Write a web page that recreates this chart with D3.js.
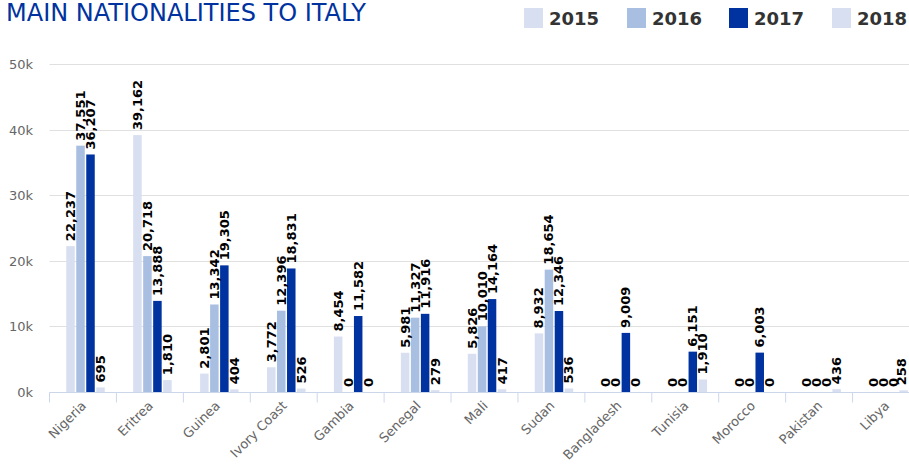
<!DOCTYPE html>
<html>
<head>
<meta charset="utf-8">
<script src="https://cdn.jsdelivr.net/npm/d3@7"></script>
<style>
  html, body { margin: 0; padding: 0; background: #fff; }
  svg { display: block; font-family: "DejaVu Sans", sans-serif; }
</style>
</head>
<body>
<svg id="chart" width="909" height="468"></svg>
<script>
const categories = ["Nigeria", "Eritrea", "Guinea", "Ivory Coast", "Gambia", "Senegal", "Mali", "Sudan", "Bangladesh", "Tunisia", "Morocco", "Pakistan", "Libya"];
const seriesNames = ["2015", "2016", "2017", "2018"];
const values2015 = [22237, 39162, 2801, 3772, 8454, 5981, 5826, 8932, 0, 0, 0, 0, 0];
const values2016 = [37551, 20718, 13342, 12396, 0, 11327, 10010, 18654, 0, 0, 0, 0, 0];
const values2017 = [36207, 13888, 19305, 18831, 11582, 11916, 14164, 12346, 9009, 6151, 6003, 0, 0];
const values2018 = [695, 1810, 404, 526, 0, 279, 417, 536, 0, 1910, 0, 436, 258];
const yTicks = [0, 10000, 20000, 30000, 40000, 50000];
const colors = ["#d8dff0", "#a9bfe2", "#0033a0", "#d8dff0"];

const seriesValues = [values2015, values2016, values2017, values2018];

const svg = d3.select("#chart");
const plotLeft = 49.5, plotRight = 919.5, plotTop = 64, plotBottom = 392;

const x = d3.scaleBand().domain(categories).range([plotLeft, plotRight]).padding(0);
const xs = d3.scaleBand().domain(seriesNames).range([16, 56]).paddingInner(0.15).paddingOuter(0.075);
const y = d3.scaleLinear().domain([0, 50000]).range([plotBottom, plotTop]);

// gridlines
svg.append("g").selectAll("line").data(yTicks).join("line")
  .attr("x1", plotLeft).attr("x2", 909)
  .attr("y1", d => Math.round(y(d)) + 0.5).attr("y2", d => Math.round(y(d)) + 0.5)
  .attr("stroke", "#e0e0e0").attr("stroke-width", 1);

// y axis labels
const yAxis = d3.axisLeft(y).tickValues(yTicks).tickSize(0).tickPadding(0)
  .tickFormat(d => (d / 1000) + "k");
const yg = svg.append("g").attr("transform", "translate(33,0)").call(yAxis);
yg.select(".domain").remove();
yg.selectAll("text").attr("fill", "#666").style("font-size", "13px")
  .style("font-family", "DejaVu Sans, sans-serif").attr("dy", "0.35em");

// bars
seriesNames.forEach((s, si) => {
  const g = svg.append("g");
  g.selectAll("rect").data(categories).join("rect")
    .attr("x", c => x(c) + xs(s))
    .attr("width", xs.bandwidth())
    .attr("y", (c, i) => y(seriesValues[si][i]))
    .attr("height", (c, i) => plotBottom - y(seriesValues[si][i]))
    .attr("fill", colors[si]);
});

// x axis
const xAxis = d3.axisBottom(x).tickSize(10).tickFormat(d => d);
const xg = svg.append("g").attr("transform", `translate(0,${plotBottom + 0.5})`).call(xAxis);
xg.select(".domain").attr("stroke", "#ccd6eb").attr("d", `M${plotLeft},0H${plotRight}`);
xg.selectAll(".tick line").attr("stroke", "#ccd6eb").attr("transform", function() {
  return "translate(" + (-x.bandwidth() / 2) + ",0)";
});
xg.selectAll(".tick text")
  .attr("fill", "#666").style("font-size", "13px").style("font-family", "DejaVu Sans, sans-serif")
  .attr("text-anchor", "end").attr("dy", null).attr("y", 0)
  .attr("transform", "translate(4,14) rotate(-45)");

// data labels
seriesNames.forEach((s, si) => {
  const g = svg.append("g");
  g.selectAll("text").data(categories).join("text")
    .attr("transform", (c, i) => {
      const cx = Math.min(x(c) + xs(s) + xs.bandwidth() / 2 + 4.5, 906);
      const cy = y(seriesValues[si][i]) - 5;
      return `translate(${cx},${cy}) rotate(-90)`;
    })
    .attr("text-anchor", "start")
    .attr("fill", "#000")
    .style("font-size", "13px").style("font-weight", "bold")
    .text((c, i) => d3.format(",")(seriesValues[si][i]));
});

// title
svg.append("text").attr("x", 6).attr("y", 21)
  .attr("fill", "#0033a0").style("font-size", "24px")
  .text("MAIN NATIONALITIES TO ITALY");

// legend
const legendX = [524, 627, 729, 832];
const lg = svg.append("g").selectAll("g").data(seriesNames).join("g")
  .attr("transform", (d, i) => `translate(${legendX[i]},8)`);
lg.append("rect").attr("width", 19).attr("height", 20).attr("fill", (d, i) => colors[i]);
lg.append("text").attr("x", 25).attr("y", 17)
  .attr("fill", "#333").style("font-size", "18px").style("font-weight", "bold")
  .text(d => d);
</script>
</body>
</html>
